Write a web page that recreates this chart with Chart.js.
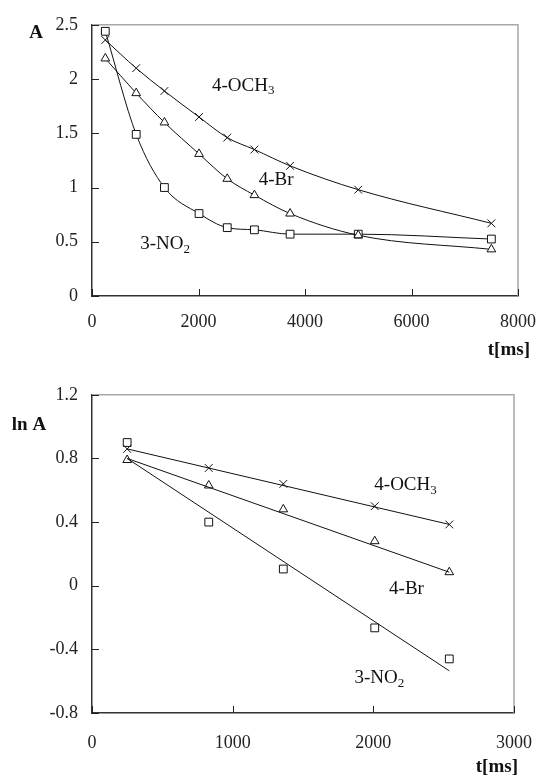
<!DOCTYPE html>
<html>
<head>
<meta charset="utf-8">
<script src="https://cdn.jsdelivr.net/npm/chart.js@4.4.0/dist/chart.umd.min.js"></script>
<style>
  html, body { margin: 0; padding: 0; background: #fff; }
  .wrap { position: absolute; left: 0; width: 551px; }
  #top { top: 0; height: 370px; }
  #bottom { top: 370px; height: 406px; }
</style>
</head>
<body>
<div class="wrap" id="top"><canvas id="chartA"></canvas></div>
<div class="wrap" id="bottom"><canvas id="chartLn"></canvas></div>
<script>
// --- data: absorbance vs time ---
const timeA = [250, 830, 1360, 2010, 2540, 3050, 3720, 5000, 7500];
const ochA  = [2.36, 2.10, 1.89, 1.65, 1.46, 1.35, 1.20, 0.98, 0.67];
const brA   = [2.19, 1.87, 1.60, 1.31, 1.08, 0.93, 0.76, 0.56, 0.43];
const no2A  = [2.44, 1.49, 1.00, 0.76, 0.63, 0.61, 0.57, 0.57, 0.525];

// --- data: ln A vs time ---
const timeLn = [250, 830, 1360, 2010, 2540];
const ochLn  = [0.86, 0.74, 0.64, 0.50, 0.385];
const brLn   = [0.79, 0.63, 0.48, 0.28, 0.085];
const no2Ln  = [0.90, 0.40, 0.105, -0.265, -0.46];

// fitted straight lines (end points)
const fitX     = [250, 2540];
const ochFit   = [0.86, 0.385];
const brFit    = [0.80, 0.085];
const no2Fit   = [0.80, -0.535];

const FONT = "'Liberation Serif', 'Times New Roman', serif";

function xy(xs, ys) {
  return xs.map((x, i) => ({ x: x, y: ys[i] }));
}

function drawChem(ctx, main, sub, x, y, size) {
  ctx.font = size + 'px ' + FONT;
  ctx.textAlign = 'left';
  ctx.textBaseline = 'middle';
  ctx.fillText(main, x, y);
  if (sub) {
    const w = ctx.measureText(main).width;
    ctx.font = Math.round(size * 0.7) + 'px ' + FONT;
    ctx.fillText(sub, x + w, y + size * 0.28);
  }
}

// inward ticks, grey top/right frame, labels
const decorPlugin = {
  id: 'decor',
  afterDatasetsDraw(chart, args, opts) {
    const ctx = chart.ctx;
    const a = chart.chartArea;
    const xs = chart.scales.x, ys = chart.scales.y;
    ctx.save();
    // grey frame top + right
    ctx.strokeStyle = '#a8a8a8';
    ctx.lineWidth = 1.5;
    ctx.beginPath();
    ctx.moveTo(a.left, a.top);
    ctx.lineTo(a.right, a.top);
    ctx.lineTo(a.right, a.bottom);
    ctx.stroke();
    // inward tick marks
    ctx.strokeStyle = '#222';
    ctx.lineWidth = 1;
    ctx.beginPath();
    xs.ticks.forEach(t => {
      const px = Math.round(xs.getPixelForValue(t.value)) + 0.5;
      ctx.moveTo(px, a.bottom);
      ctx.lineTo(px, a.bottom - 7);
    });
    ys.ticks.forEach(t => {
      const py = Math.round(ys.getPixelForValue(t.value)) + 0.5;
      ctx.moveTo(a.left, py);
      ctx.lineTo(a.left + 7, py);
    });
    ctx.stroke();
    // series labels placed in data units
    ctx.fillStyle = '#111';
    opts.labels.forEach(l => {
      drawChem(ctx, l.main, l.sub, xs.getPixelForValue(l.x), ys.getPixelForValue(l.y), 19);
    });
    // axis titles
    ctx.font = 'bold 19px ' + FONT;
    ctx.textBaseline = 'middle';
    ctx.textAlign = 'center';
    ctx.fillText(opts.yTitle, opts.yTitlePos[0], opts.yTitlePos[1]);
    ctx.textAlign = 'right';
    ctx.fillText('t[ms]', opts.xTitlePos[0], opts.xTitlePos[1]);
    ctx.restore();
  }
};

const fmt1 = v => String(Math.round(v * 10) / 10);
const fmtInt = v => String(Math.round(v));

function axisOpts(min, max, step, width, height, padX, padY) {
  return {
    x: {
      type: 'linear', min: 0, max: max.x,
      ticks: { stepSize: step.x, padding: padX, color: '#222', font: { family: FONT, size: 18 }, callback: fmtInt },
      grid: { display: false, drawTicks: false },
      border: { display: true, color: '#333', width: 1.5 },
      afterFit(s) { s.height = height; }
    },
    y: {
      type: 'linear', min: min.y, max: max.y,
      ticks: { stepSize: step.y, padding: padY, color: '#222', font: { family: FONT, size: 18 }, callback: fmt1 },
      grid: { display: false, drawTicks: false },
      border: { display: true, color: '#333', width: 1.5 },
      afterFit(s) { s.width = width; }
    }
  };
}

new Chart(document.getElementById('chartA'), {
  type: 'line',
  data: {
    datasets: [
      { label: '4-OCH3', data: xy(timeA, ochA), pointStyle: 'crossRot', pointRadius: 5.5 },
      { label: '4-Br', data: xy(timeA, brA), pointStyle: 'triangle', pointRadius: 5 },
      { label: '3-NO2', data: xy(timeA, no2A), pointStyle: 'rect', pointRadius: 5.5 }
    ].map(d => Object.assign({
      borderColor: '#111', borderWidth: 1, pointBorderColor: '#111', pointBackgroundColor: '#fff',
      pointBorderWidth: 1, cubicInterpolationMode: 'monotone', fill: false
    }, d))
  },
  options: {
    responsive: true, maintainAspectRatio: false, animation: false,
    layout: { padding: { left: 0, right: 20, top: 20, bottom: 0 } },
    scales: axisOpts({ y: 0 }, { x: 8000, y: 2.5 }, { x: 2000, y: 0.5 }, 92, 74, 15, 14),
    plugins: {
      legend: { display: false }, tooltip: { enabled: false },
      decor: {
        labels: [
          { main: '4-OCH', sub: '3', x: 2254, y: 1.94 },
          { main: '4-Br', sub: '', x: 3130, y: 1.07 },
          { main: '3-NO', sub: '2', x: 905, y: 0.48 }
        ],
        yTitle: 'A', yTitlePos: [36, 33], xTitlePos: [530, 350]
      }
    }
  },
  plugins: [decorPlugin]
});

const markerBase = { showLine: false, pointBorderColor: '#111', pointBackgroundColor: '#fff', pointBorderWidth: 1 };
const fitBase = { borderColor: '#111', borderWidth: 1, pointRadius: 0, tension: 0, fill: false };

new Chart(document.getElementById('chartLn'), {
  type: 'line',
  data: {
    datasets: [
      Object.assign({ data: xy(fitX, ochFit) }, fitBase),
      Object.assign({ data: xy(fitX, brFit) }, fitBase),
      Object.assign({ data: xy(fitX, no2Fit) }, fitBase),
      Object.assign({ data: xy(timeLn, ochLn), pointStyle: 'crossRot', pointRadius: 5.5 }, markerBase),
      Object.assign({ data: xy(timeLn, brLn), pointStyle: 'triangle', pointRadius: 5 }, markerBase),
      Object.assign({ data: xy(timeLn, no2Ln), pointStyle: 'rect', pointRadius: 5.5 }, markerBase)
    ]
  },
  options: {
    responsive: true, maintainAspectRatio: false, animation: false,
    layout: { padding: { left: 0, right: 32, top: 20, bottom: 0 } },
    scales: axisOpts({ y: -0.8 }, { x: 3000, y: 1.2 }, { x: 1000, y: 0.4 }, 92, 63, 19, 14),
    plugins: {
      legend: { display: false }, tooltip: { enabled: false },
      decor: {
        labels: [
          { main: '4-OCH', sub: '3', x: 2007, y: 0.633 },
          { main: '4-Br', sub: '', x: 2112, y: -0.02 },
          { main: '3-NO', sub: '2', x: 1866, y: -0.58 }
        ],
        yTitle: 'ln A', yTitlePos: [29, 55], xTitlePos: [518, 397]
      }
    }
  },
  plugins: [decorPlugin]
});
</script>
</body>
</html>
